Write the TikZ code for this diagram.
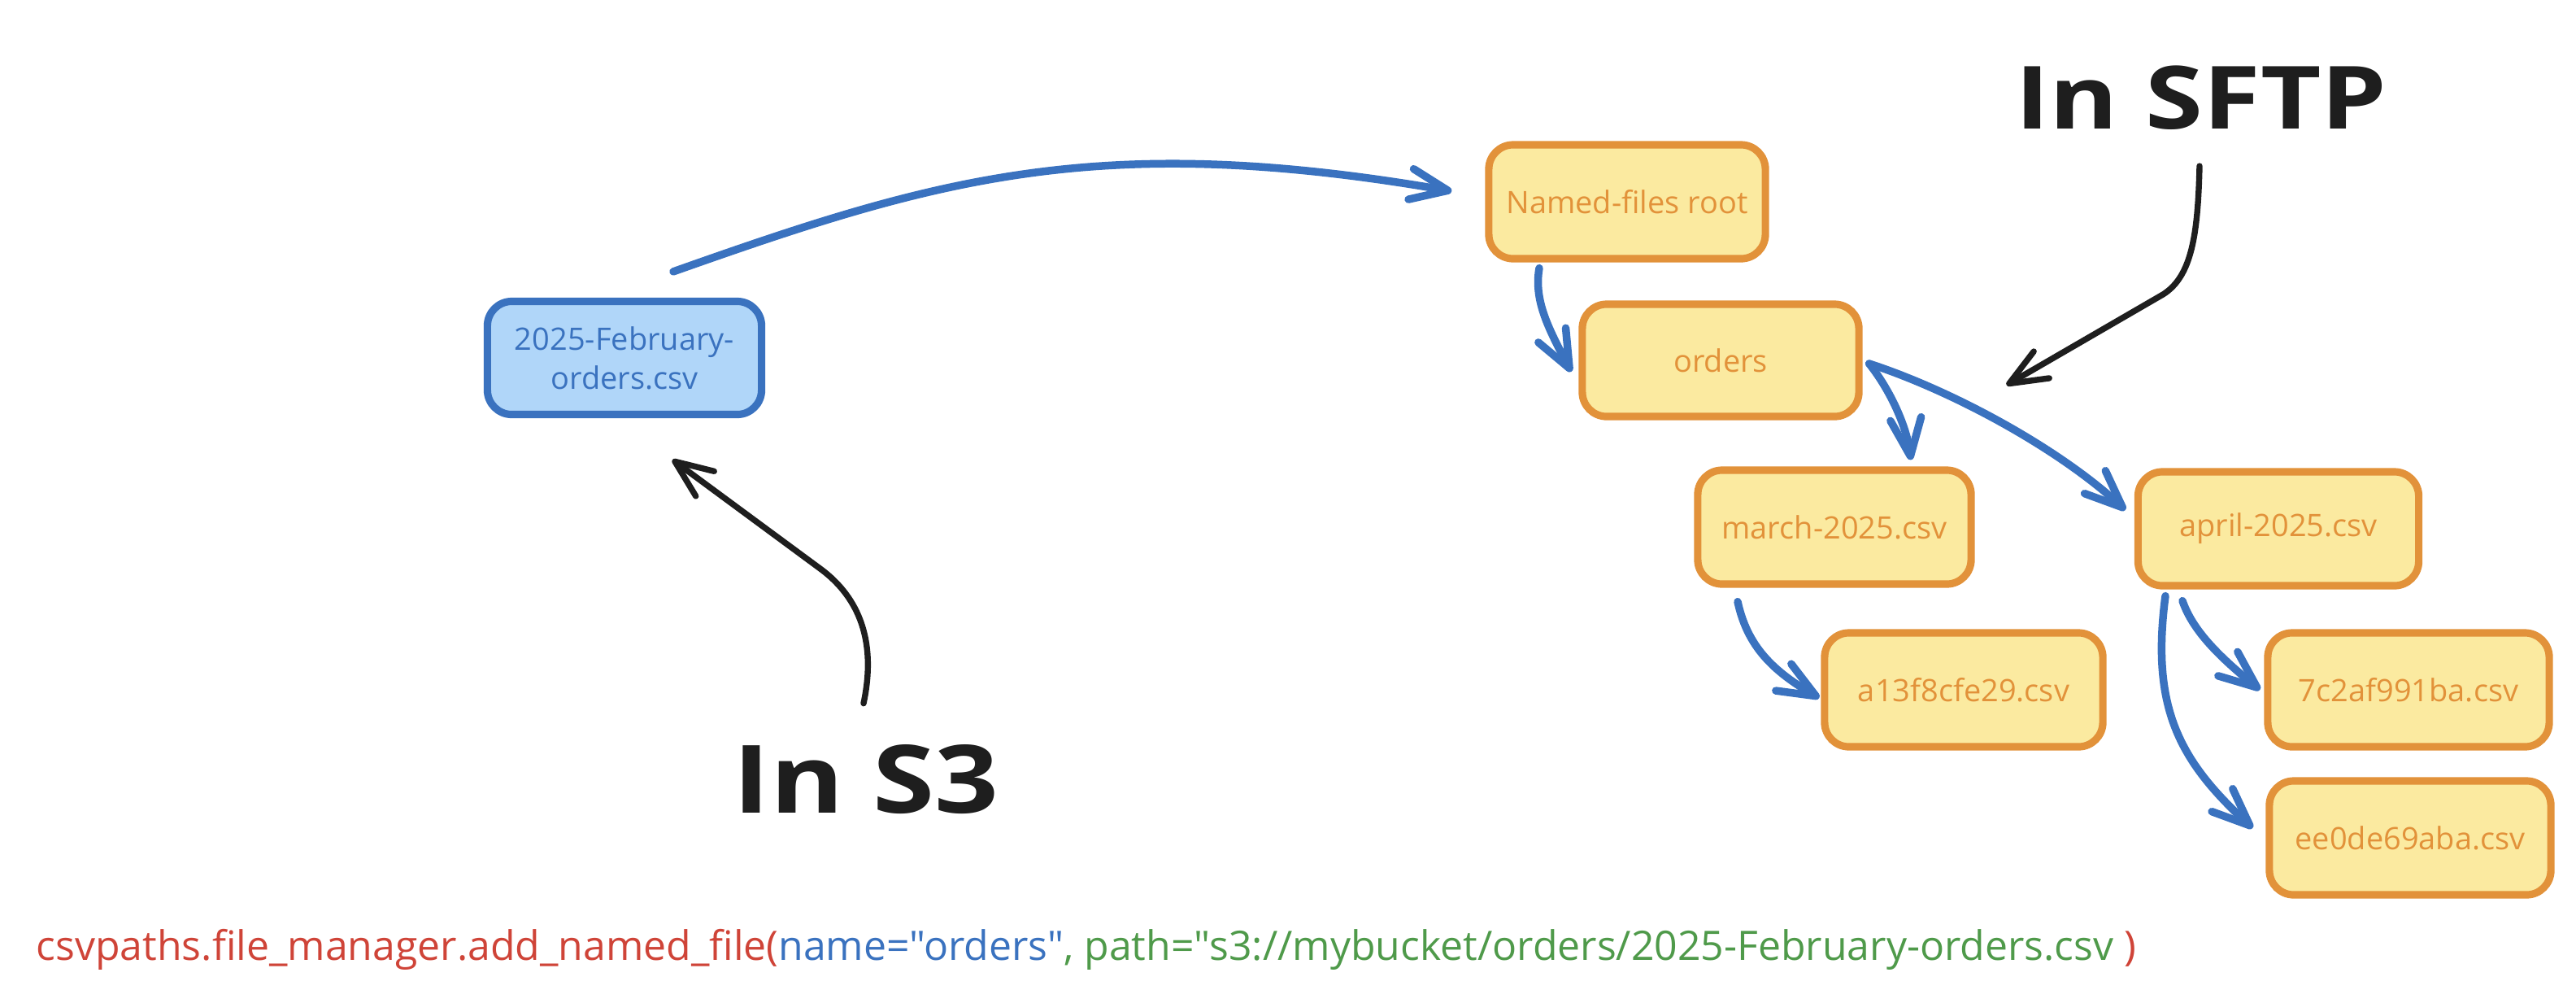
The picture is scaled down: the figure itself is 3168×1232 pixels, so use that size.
\documentclass[tikz,border=0pt]{standalone}
\usepackage{fontspec}
\setmainfont{Open Sans}
\newfontfamily\plainfont{Open Sans}
\usetikzlibrary{arrows.meta,calc}
\definecolor{blueS}{HTML}{3A72BF}
\definecolor{blueF}{HTML}{B0D6F9}
\definecolor{orS}{HTML}{E2923A}
\definecolor{orF}{HTML}{FBEAA0}
\definecolor{inkB}{HTML}{1E1E1E}
\definecolor{codeRed}{HTML}{CF4438}
\definecolor{codeBlue}{HTML}{3A72BF}
\definecolor{codeGreen}{HTML}{4F9A4A}
\tikzset{
  box/.style={draw, line width=2.6pt, rounded corners=0.3cm, minimum width=3.4cm,
    minimum height=1.4cm, inner sep=0pt, align=center,
    font=\fontsize{10.8}{13.6}\selectfont},
  ybox/.style={box, draw=orS, fill=orF, text=orS},
  bbox/.style={box, draw=blueS, fill=blueF, text=blueS},
  barr/.style={draw=blueS, line width=2.7pt, line cap=round, line join=round,
    -{Straight Barb[length=4.6mm,width=3.8mm,line cap=round,line join=round]}},
  karr/.style={draw=inkB, line width=2.1pt, line cap=round, line join=round,
    -{Straight Barb[length=4.6mm,width=3.8mm,line cap=round,line join=round]}},
  biglabel/.style={text=inkB, inner sep=0pt}
}
\begin{document}
\begin{tikzpicture}[x=0.01cm,y=-0.01cm]
\useasboundingbox (0,0) rectangle (3168,1232);

% boxes
\node[bbox, minimum width=3.37cm, minimum height=1.39cm] (src) at (768,440) {2025-February-\\orders.csv};
\node[ybox] (root) at (2001,248) {Named-files root};
\node[ybox, minimum height=1.38cm] (orders) at (2116,443) {orders};
\node[ybox, minimum width=3.36cm] (march) at (2256,648) {march-2025.csv};
\node[ybox, minimum width=3.45cm] (april) at (2802,650) {april-2025.csv};
\node[ybox, minimum width=3.42cm] (a13) at (2415,848) {a13f8cfe29.csv};
\node[ybox, minimum width=3.46cm] (c7) at (2962,848) {7c2af991ba.csv};
\node[ybox, minimum width=3.46cm] (ee0) at (2964,1030) {ee0de69aba.csv};

% labels
\node[biglabel, font=\fontsize{30.5}{36}\selectfont\bfseries] (sftp) at (2707,120) {\scalebox{1.2}[1]{In SFTP}};
\node[biglabel, font=\fontsize{33}{40}\selectfont\bfseries] (s3) at (1065,958) {\scalebox{1.19}[1]{In S3}};

% code line
\node[anchor=base west, inner sep=0pt, font=\plainfont\fontsize{14.2}{17}\selectfont] (code) at (44,1180)
  {\textcolor{codeRed}{csvpaths.file\_manager.add\_named\_file(}\textcolor{codeBlue}{name="orders"}\textcolor{codeGreen}{, path="s3://mybucket/orders/2025-February-orders.csv}\textcolor{codeRed}{\ )}};

% blue connectors
\draw[barr] ($(src.north)+(60,-32)$) .. controls (1150,220) and (1350,160) .. ($(root.west)+(-41,-13)$);
\draw[barr] ($(root.south)+(-108,7)$) .. controls (1886,370) and (1905,405) .. ($(orders.west)+(-9,14)$);
\draw[barr] ($(orders.east)+(8,4)$) .. controls (2325,480) and (2345,525) .. ($(march.north)+(94,-8)$);
\draw[barr] ($(orders.east)+(8,4)$) .. controls (2400,480) and (2530,550) .. ($(april.west)+(-11,-23)$);
\draw[barr] ($(march.south)+(-119,17)$) .. controls (2148,790) and (2175,822) .. ($(a13.west)+(-2,10)$);
\draw[barr] ($(april.south)+(-118,14)$) .. controls (2695,770) and (2720,800) .. ($(c7.west)+(-5,0)$);
\draw[barr] ($(april.south)+(-139,8)$) .. controls (2645,870) and (2680,935) .. ($(ee0.west)+(-16,-12)$);

% black connectors
\draw[karr] ($(s3.north)+(-3,-50)$) .. controls (1080,780) and (1050,730) .. (1010,700) -- ($(src.south)+(59,51)$);
\draw[karr] ($(sftp.south)+(-2,44)$) .. controls (2703,290) and (2695,340) .. (2660,362) -- ($(orders.north east)+(177,104)$);
\end{tikzpicture}
\end{document}
